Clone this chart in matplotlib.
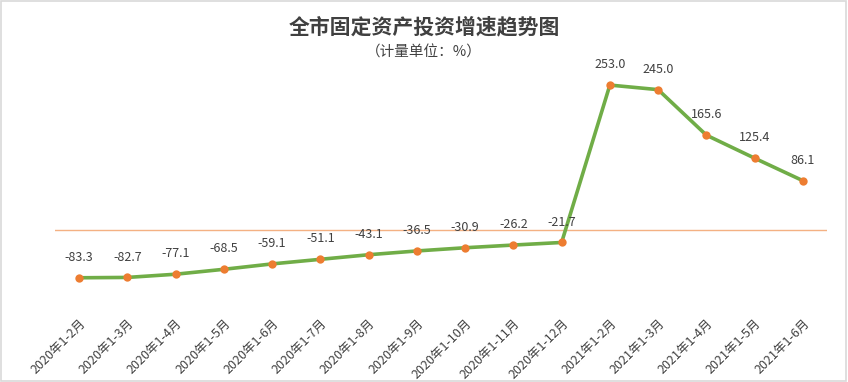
import matplotlib.pyplot as plt
from matplotlib.patches import Rectangle

plt.rcParams['font.family'] = ['Noto Sans CJK SC', 'DejaVu Sans']

periods = ['2020年1-2月', '2020年1-3月', '2020年1-4月', '2020年1-5月', '2020年1-6月',
           '2020年1-7月', '2020年1-8月', '2020年1-9月', '2020年1-10月', '2020年1-11月',
           '2020年1-12月', '2021年1-2月', '2021年1-3月', '2021年1-4月', '2021年1-5月',
           '2021年1-6月']
growth = [-83.3, -82.7, -77.1, -68.5, -59.1, -51.1, -43.1, -36.5, -30.9, -26.2,
          -21.7, 253.0, 245.0, 165.6, 125.4, 86.1]

W, H = 848, 382
fig = plt.figure(figsize=(W / 100, H / 100), dpi=100)
# axes placed in pixel terms: x 55..827, y 69.6..298.8 (from top)
ax = fig.add_axes([55 / W, (H - 298.8) / H, (827 - 55) / W, (298.8 - 69.6) / H])

x = list(range(len(periods)))
ax.axhline(0, color='#F4B183', lw=1.0, zorder=1)
ax.plot(x, growth, color='#70AD47', lw=2.6, zorder=2)
ax.scatter(x, growth, s=36, color='#ED7D31', zorder=3, linewidths=0)

# data labels above points
for xi, v in zip(x, growth):
    ax.annotate(f'{v:.1f}', (xi, v), xytext=(0, 10), textcoords='offset points',
                ha='center', va='bottom', fontsize=9, color='#404040')

ax.set_xlim(-0.5, len(periods) - 0.5)
ax.set_ylim(-120, 280)
ax.set_yticks([])
ax.set_xticks(x)
ax.set_xticklabels(periods, rotation=45, ha='right', va='top',
                   rotation_mode='anchor', fontsize=9, color='#404040')
ax.tick_params(axis='x', length=0, pad=13)
for s in ax.spines.values():
    s.set_visible(False)

fig.text(0.5, 1 - 27 / H, '全市固定资产投资增速趋势图', ha='center', va='center',
         fontsize=15, fontweight='bold', color='#404040')
fig.text(0.5, 1 - 53 / H, '（计量单位：%）', ha='center', va='center',
         fontsize=10.5, color='#404040')

fig.patches.append(Rectangle((0.001, 0.002), 0.997, 0.995, transform=fig.transFigure,
                             fill=False, edgecolor='#D9D9D9', lw=1.2))

fig.savefig('out.png', dpi=100)
